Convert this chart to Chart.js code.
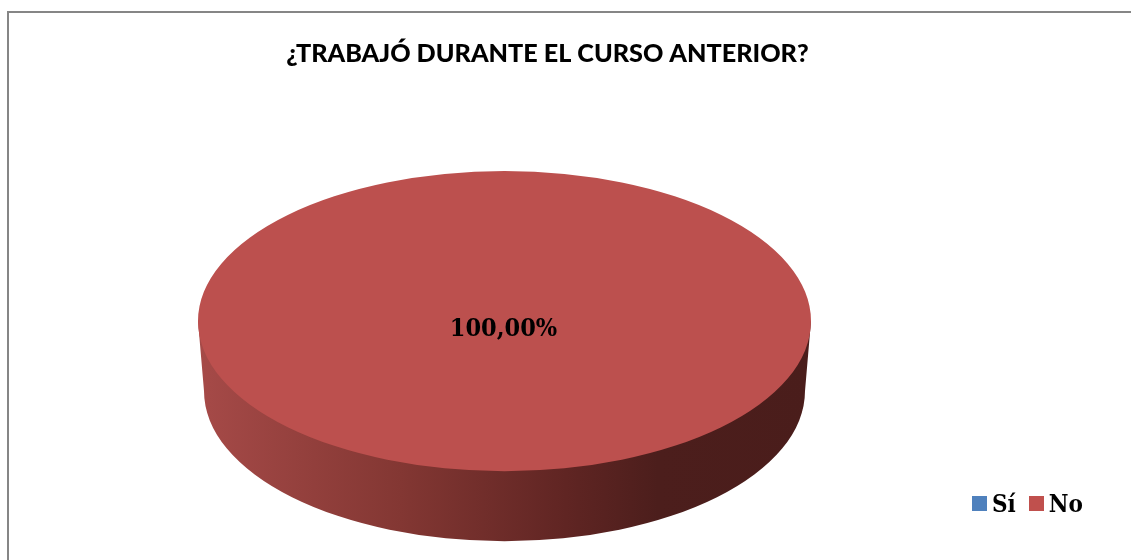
<!DOCTYPE html>
<html>
<head>
<meta charset="utf-8">
<title>Gráfico</title>
<script src="https://cdn.jsdelivr.net/npm/chart.js@4"></script>
<style>
	html, body { margin: 0; padding: 0; background: #fff; overflow: hidden; }
	#caja { position: relative; width: 1131px; height: 560px; }
	#marco { position: absolute; left: 7px; top: 11px; width: 1200px; height: 700px; border: 2px solid #868686; box-sizing: border-box; }
	#leyenda { position: absolute; left: 972px; top: 487px; font: bold 24px "DejaVu Serif Condensed", "DejaVu Serif", serif; color: #000; white-space: nowrap; }
	#leyenda span { display: inline-block; vertical-align: middle; line-height: 32px; }
	#leyenda .cuadro { width: 15px; height: 15px; margin-right: 5px; }
	#leyenda .texto { margin-right: 13px; }
</style>
</head>
<body>
<div id="caja">
	<canvas id="graficoTrabajo" width="1131" height="560"></canvas>
	<div id="marco"></div>
	<div id="leyenda"></div>
</div>
<script>
var categorias = ['Sí', 'No'];
var valores = [0, 100];
var cores = ['#4F81BD', '#BC504E'];
var titulo = '¿TRABAJÓ DURANTE EL CURSO ANTERIOR?';

var aplastar = 0.4895;   // ellipse height / width of the pie top
var fondo = 70;          // wall depth
var estrechar = 6;       // bottom ellipse is a bit narrower

var pie3d = {
	id: 'pie3d',
	afterLayout: function(chart){
		// the title sits right of the pie centre and higher in the original
		chart.titleBlock.left += 43;
		chart.titleBlock.right += 43;
		chart.titleBlock.top -= 21;
		chart.titleBlock.bottom -= 21;
	},
	beforeDatasetsDraw: function(chart){
		var ctx = chart.ctx;
		var arco = chart.getDatasetMeta(0).data[1];
		var cx = arco.x, cy = arco.y, r = arco.outerRadius;
		var ry = r * aplastar;

		var grad = ctx.createLinearGradient(cx - r, 0, cx + r, 0);
		grad.addColorStop(0, '#A64A48');
		grad.addColorStop(0.33, '#833733');
		grad.addColorStop(0.6, '#602523');
		grad.addColorStop(0.75, '#4C1E1C');
		grad.addColorStop(1, '#4A1D1B');

		ctx.save();
		ctx.beginPath();
		ctx.moveTo(cx - r, cy);
		ctx.ellipse(cx, cy + fondo, r - estrechar, ry, 0, Math.PI, 0, true);
		ctx.lineTo(cx + r, cy);
		ctx.closePath();
		ctx.fillStyle = grad;
		ctx.fill();
		ctx.restore();

		ctx.save();
		ctx.translate(cx, cy);
		ctx.scale(1, aplastar);
		ctx.translate(-cx, -cy);
	},
	afterDatasetsDraw: function(chart){
		var ctx = chart.ctx;
		ctx.restore();

		var arco = chart.getDatasetMeta(0).data[1];
		var total = valores[0] + valores[1];
		var texto = (valores[1] / total * 100).toFixed(2).replace('.', ',') + '%';
		ctx.save();
		ctx.font = 'bold 25px "DejaVu Serif Condensed", "DejaVu Serif", serif';
		ctx.fillStyle = '#000';
		ctx.textAlign = 'center';
		ctx.textBaseline = 'middle';
		ctx.fillText(texto, arco.x - 1, arco.y + 8);
		ctx.restore();
	}
};

var grafico = new Chart(document.getElementById('graficoTrabajo'), {
	type: 'pie',
	data: {
		labels: categorias,
		datasets: [{
			data: valores,
			backgroundColor: cores,
			borderWidth: 0,
			radius: 306.5
		}]
	},
	options: {
		responsive: false,
		animation: false,
		layout: { padding: { top: 60, right: 122, bottom: 8, left: 0 } },
		plugins: {
			legend: { display: false },
			tooltip: { enabled: false },
			title: {
				display: true,
				text: titulo,
				color: '#000',
				font: { family: 'Lato', size: 25.2, weight: '900' },
				padding: { top: 0, bottom: 0 }
			}
		}
	},
	plugins: [pie3d]
});

var leyenda = document.getElementById('leyenda');
for (var i = 0; i < categorias.length; i++) {
	var cuadro = document.createElement('span');
	cuadro.className = 'cuadro';
	cuadro.style.background = i == 1 ? '#C0504D' : cores[i];
	var texto = document.createElement('span');
	texto.className = 'texto';
	texto.textContent = categorias[i];
	leyenda.appendChild(cuadro);
	leyenda.appendChild(texto);
}
</script>
</body>
</html>
